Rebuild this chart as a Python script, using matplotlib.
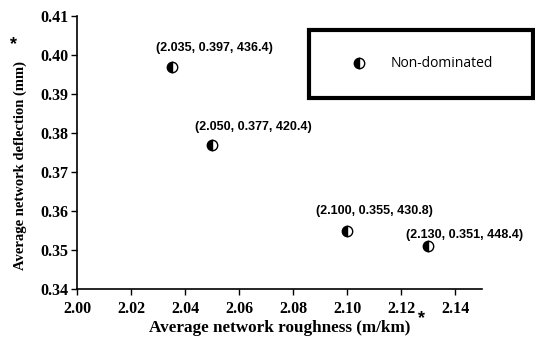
import matplotlib
matplotlib.use("Agg")
import matplotlib.pyplot as plt
from matplotlib.lines import Line2D

# Data
roughness = [2.035, 2.050, 2.100, 2.130]
deflection = [0.397, 0.377, 0.355, 0.351]
cost = [436.4, 420.4, 430.8, 448.4]
x_ticks = [2.00, 2.02, 2.04, 2.06, 2.08, 2.10, 2.12, 2.14]
y_ticks = [0.34, 0.35, 0.36, 0.37, 0.38, 0.39, 0.40, 0.41]
legend_label = "Non-dominated"
x_label = "Average network roughness (m/km)"
y_label = "Average network deflection (mm)"

# label offsets in points (styling)
offsets = [(31, 13.7), (30, 13), (20, 14.4), (26, 8)]

fig = plt.figure(figsize=(5.35, 3.43), dpi=100)
ax = fig.add_axes([77/535, 1 - 289/343, (482 - 77)/535, (289 - 16)/343])

ax.plot(roughness, deflection, linestyle="none", marker="o", markersize=7.5,
        fillstyle="left", markerfacecolor="black", markerfacecoloralt="white",
        markeredgecolor="black", markeredgewidth=1.0, clip_on=False)

for x, y, c, off in zip(roughness, deflection, cost, offsets):
    ax.annotate(f"({x:.3f}, {y:.3f}, {c:.1f})", xy=(x, y), xytext=off,
                textcoords="offset points", ha="center", va="center",
                fontsize=9, fontweight="bold", family="Liberation Sans")

ax.set_xlim(2.00, 2.15)
ax.set_ylim(0.34, 0.41)
ax.set_xticks(x_ticks)
ax.set_yticks(y_ticks)
ax.set_xticklabels([f"{v:.2f}" for v in x_ticks])
ax.set_yticklabels([f"{v:.2f}" for v in y_ticks])
for lab in ax.get_xticklabels() + ax.get_yticklabels():
    lab.set_fontfamily("Liberation Serif")
    lab.set_fontweight("bold")
    lab.set_fontsize(11.5)
ax.tick_params(direction="out", length=4, width=1, colors="black", pad=2)
ax.tick_params(axis="x", pad=4.5)
ax.spines["top"].set_visible(False)
ax.spines["right"].set_visible(False)
ax.spines["left"].set_linewidth(1.2)
ax.spines["bottom"].set_linewidth(1.2)

fig.text(280/535, 1 - 328/343, x_label, ha="center", va="center",
         family="Liberation Serif", fontweight="bold", fontsize=12.3)
fig.text(421/535, 1 - 319/343, "*", ha="center", va="center",
         family="Liberation Sans", fontweight="bold", fontsize=13)
fig.text(20/535, 1 - 165/343, y_label, ha="center", va="center", rotation=90,
         family="Liberation Serif", fontweight="bold", fontsize=10.5)
fig.text(13/535, 1 - 45/343, "*", ha="center", va="center",
         family="Liberation Sans", fontweight="bold", fontsize=13)

handle = Line2D([], [], linestyle="none", marker="o", markersize=7.5,
                fillstyle="left", markerfacecolor="black", markerfacecoloralt="white",
                markeredgecolor="black", markeredgewidth=1.0)
leg = fig.legend([handle], [legend_label], loc="upper left",
                 bbox_to_anchor=(309/535, 1 - 30/343, 224/535, 0), mode="expand",
                 borderaxespad=0, fancybox=False, frameon=True, borderpad=1.9,
                 handlelength=3.4, handletextpad=0.6,
                 prop={"family": "Open Sans", "size": 10})
leg.get_frame().set_edgecolor("black")
leg.get_frame().set_linewidth(3)
leg.get_frame().set_alpha(1)

fig.savefig("out.png", dpi=100)
